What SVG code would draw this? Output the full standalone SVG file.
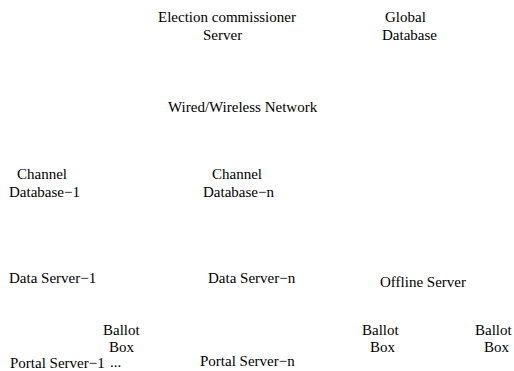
<svg xmlns="http://www.w3.org/2000/svg" width="514" height="371" viewBox="0 0 514 371">
<style>
text { font-family: "Liberation Serif", "Times New Roman", serif; font-size: 15px; fill: #000; }
</style>
<rect x="0" y="0" width="514" height="371" fill="#fff"/>
<g id="connectors"></g>
<g id="election-server"><text x="158" y="22">Election commissioner</text><text x="203" y="40">Server</text></g>
<g id="global-db"><text x="385" y="22">Global</text><text x="382" y="40">Database</text></g>
<g id="network"><text x="168" y="112">Wired/Wireless Network</text></g>
<g id="channel-db-1"><text x="17" y="179">Channel</text><text x="9" y="197">Database−1</text></g>
<g id="channel-db-n"><text x="212" y="179">Channel</text><text x="203" y="197">Database−n</text></g>
<g id="data-server-1"><text x="9" y="283">Data Server−1</text></g>
<g id="data-server-n"><text x="208" y="283">Data Server−n</text></g>
<g id="offline-server"><text x="380" y="287">Offline Server</text></g>
<g id="ballot-box-1"><text x="103" y="335">Ballot</text><text x="109" y="352">Box</text><text x="110" y="367">...</text></g>
<g id="ballot-box-2"><text x="362" y="335">Ballot</text><text x="370" y="352">Box</text></g>
<g id="ballot-box-3"><text x="475" y="335">Ballot</text><text x="484" y="352">Box</text></g>
<g id="portal-server-1"><text x="10" y="368">Portal Server−1</text></g>
<g id="portal-server-n"><text x="200" y="366">Portal Server−n</text></g>
</svg>
